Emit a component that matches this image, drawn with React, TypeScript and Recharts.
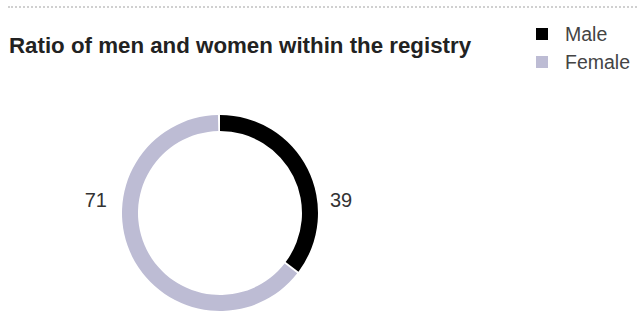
import { PieChart, Pie, Cell } from "recharts";

const genders = ["Male", "Female"];
const counts = [39, 71];
const colors = ["#000000", "#bdbcd4"];

const data = genders.map((name, i) => ({ name, value: counts[i] }));

const FONT = "'Liberation Sans', Arial, sans-serif";

function SideLabel(props: any) {
  const { cx, cy, outerRadius, midAngle, value } = props;
  const right = Math.cos((-midAngle * Math.PI) / 180) >= 0;
  const x = right ? cx + outerRadius + 12 : cx - outerRadius - 15;
  return (
    <text
      x={x}
      y={cy - 13}
      textAnchor={right ? "start" : "end"}
      dominantBaseline="central"
      fill="#333"
      fontSize={20}
      fontFamily={FONT}
    >
      {value}
    </text>
  );
}

export default function App() {
  return (
    <div style={{ position: "absolute", left: 0, top: 0, width: 637, height: 322, background: "#fff", overflow: "hidden" }}>
      <div style={{ position: "absolute", left: 8, right: 0, top: 6, borderTop: "2px dotted #d0d0d0" }} />
      <div
        style={{
          position: "absolute",
          left: 9,
          top: 33,
          fontFamily: FONT,
          fontWeight: "bold",
          fontSize: 22.3,
          color: "#222",
          whiteSpace: "nowrap",
        }}
      >
        Ratio of men and women within the registry
      </div>
      <div style={{ position: "absolute", left: 536, top: 20, fontFamily: FONT, fontSize: 19.5, color: "#444" }}>
        {genders.map((g, i) => (
          <div key={g} style={{ display: "flex", alignItems: "center", height: 28 }}>
            <span style={{ width: 12, height: 12, background: colors[i], display: "inline-block", marginRight: 17 }} />
            {g}
          </div>
        ))}
      </div>
      <PieChart
        width={637}
        height={322}
        margin={{ top: 0, right: 0, bottom: 0, left: 0 }}
        style={{ position: "absolute", left: 0, top: 0 }}
      >
        <Pie
          data={data}
          dataKey="value"
          nameKey="name"
          cx={220}
          cy={213}
          innerRadius={82}
          outerRadius={98}
          startAngle={90}
          endAngle={-270}
          paddingAngle={1.2}
          stroke="none"
          label={SideLabel}
          labelLine={false}
          isAnimationActive={false}
        >
          {data.map((d, i) => (
            <Cell key={d.name} fill={colors[i]} />
          ))}
        </Pie>
      </PieChart>
    </div>
  );
}
